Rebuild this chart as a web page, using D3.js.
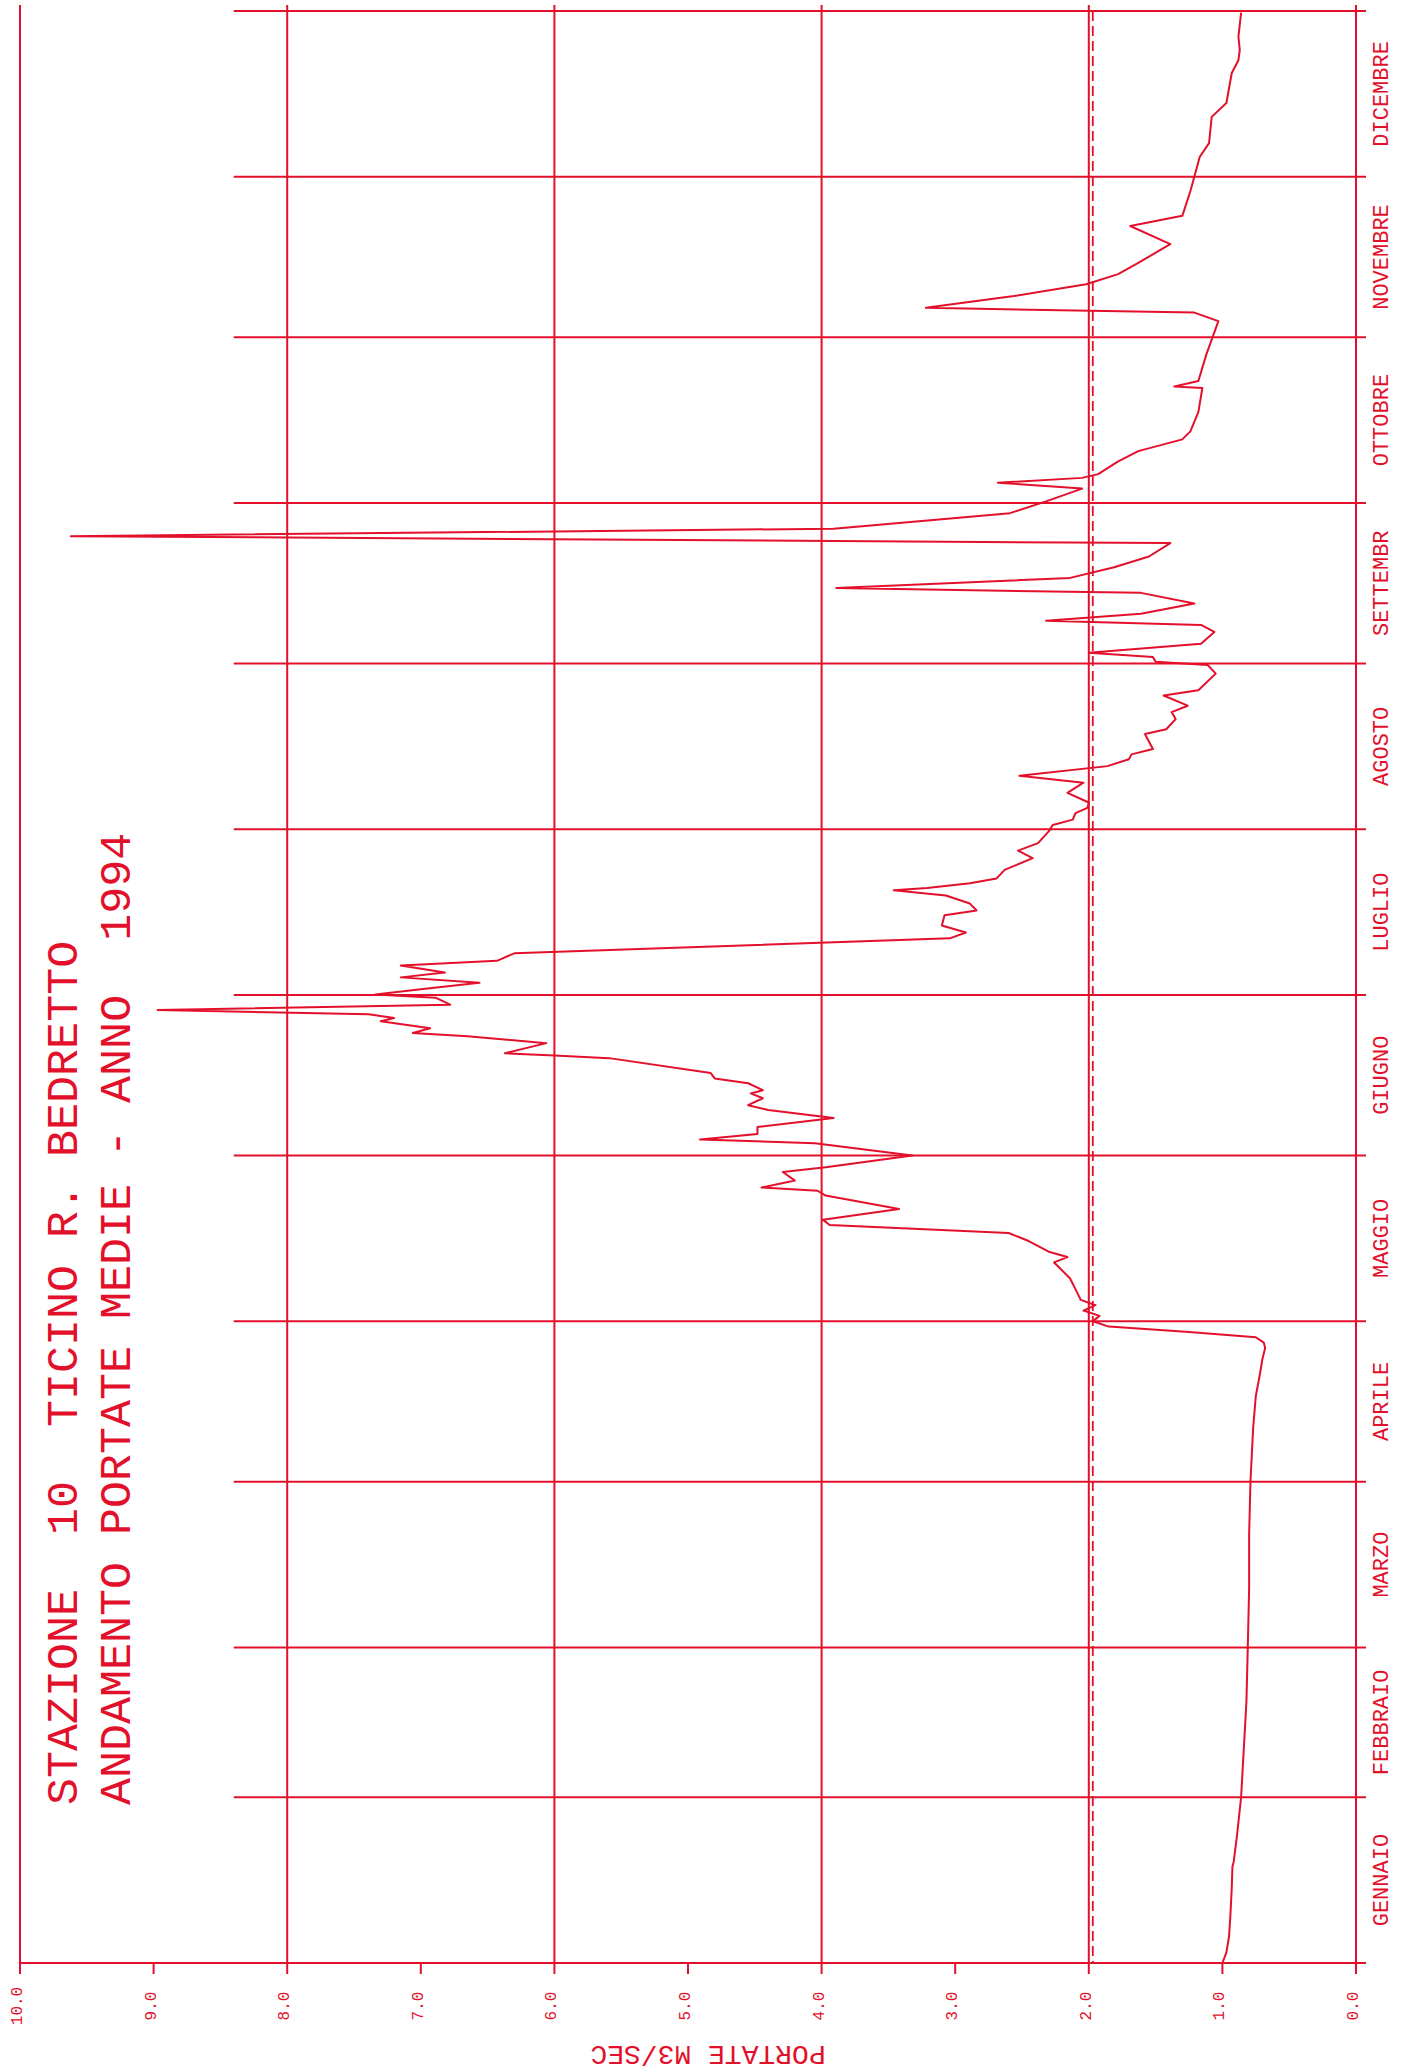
<!DOCTYPE html>
<html><head><meta charset="utf-8">
<script src="https://cdn.jsdelivr.net/npm/d3@7/dist/d3.min.js"></script>
<style>html,body{margin:0;padding:0;background:#fff}svg{display:block}text{white-space:pre}</style>
</head><body>
<svg id="chart" width="1402" height="2071"></svg>
<script>
// ---- data ----
const titleLines = ["STAZIONE  10  TICINO R. BEDRETTO", "ANDAMENTO PORTATE MEDIE - ANNO  1994"];
const axisTitle = "PORTATE M3/SEC";
const months = ["GENNAIO","FEBBRAIO","MARZO","APRILE","MAGGIO","GIUGNO","LUGLIO","AGOSTO","SETTEMBR","OTTOBRE","NOVEMBRE","DICEMBRE"];
const monthStartDays = [0,31,59,90,120,151,181,212,243,273,304,334,365];
const valueTicks = [0,1,2,3,4,5,6,7,8,9,10];
const tickLabels = ["0.0","1.0","2.0","3.0","4.0","5.0","6.0","7.0","8.0","9.0","10.0"];
const meanFlow = 1.97;
const days = [0,2,5,9,14,18,19,24,31,40,49,59,70,80,90,100,106,110,113,115,116,117,118,119,
  120,121,122,123,124,126,128,130,131,132,133,135,136.5,138,139,141,143.5,144.4,145,146.3,147.9,148.8,
  151,153.3,154,155,156.3,158,159.5,160.4,161.7,162.6,163.2,164.5,165.4,166.4,169.2,169.7,170.1,172,
  173.3,173.9,174.8,176.1,176.7,177.4,178.2,179.2,180.5,181.1,182.1,183.3,184.3,185.2,186.5,187.4,188.8,
  191.6,192.7,194,195.9,196.8,198.1,199.6,200.6,201,201.9,202.8,204.4,206.6,208,209.4,211.6,212.8,213.8,
  215,216,217,218.8,220.7,222,223.8,225.1,226,227,229.8,230.7,232.6,233.9,235.1,237,238,241.1,242.7,
  243.3,244.2,245,246.7,248.9,250.2,251,252.3,254.2,256.2,257.1,259,261,263,265.5,266.8,268.2,271.1,
  273.3,275.7,276.8,277.7,278.4,280.8,282.7,284.9,286.4,290,294.5,294.8,295.8,300.8,307,308.6,309.5,
  311.7,313.9,315.8,317.9,321.4,324.8,326.7,331.3,334,337.7,340.3,345.2,347.8,353.4,355.8,357.7,360.2,364.7];
const flows = [1.00,0.97,0.95,0.94,0.93,0.925,0.915,0.89,0.86,0.84,0.82,0.81,0.80,0.80,0.79,0.77,0.75,0.72,0.70,0.68,0.69,0.75,1.25,1.85,
  1.97,1.92,2.04,1.95,2.06,2.10,2.14,2.22,2.26,2.16,2.30,2.45,2.60,3.94,3.99,3.42,3.97,4.03,4.45,4.20,4.29,3.97,
  3.32,4.05,4.91,4.48,4.48,3.91,4.40,4.55,4.44,4.53,4.44,4.55,4.80,4.83,5.59,6.00,6.37,6.06,
  6.65,7.06,6.93,7.30,7.20,7.39,8.97,6.78,6.89,7.34,7.00,6.56,7.15,6.82,7.15,6.43,6.30,
  3.04,2.92,3.10,3.08,2.84,2.89,3.07,3.46,3.21,2.89,2.69,2.63,2.42,2.53,2.38,2.30,2.27,2.12,
  2.10,2.01,2.00,2.16,2.04,2.52,1.86,1.70,1.68,1.52,1.58,1.42,1.35,1.38,1.26,1.44,1.18,1.05,1.11,
  1.50,1.52,2.00,1.16,1.06,1.16,2.32,1.61,1.21,1.61,3.89,2.14,1.81,1.55,1.39,9.62,3.91,2.59,
  2.32,2.05,2.68,2.05,1.93,1.78,1.63,1.30,1.24,1.18,1.15,1.36,1.18,1.12,1.03,1.21,3.22,
  2.56,2.02,1.78,1.63,1.39,1.69,1.30,1.24,1.21,1.17,1.10,1.08,0.97,0.93,0.88,0.87,0.88,0.86];

// ---- drawing ----
const RED = "#e3102b";
const FONT = "'Liberation Mono','DejaVu Sans Mono',monospace";
const svg = d3.select("#chart");

const x = d3.scaleLinear().domain([0, 10]).range([1356, 20]);   // flow -> screen x
const y = d3.scaleLinear().domain([0, 365]).range([1963, 11]);  // day of year -> screen y

const yTop = 5, yBottom = 1963, tickEnd = 1974;
const gridStart = x(8.4), gridEnd = x(0) + 10;

// vertical lines: frame + even gridlines
svg.append("g").selectAll("line").data(valueTicks.filter(v => v % 2 === 0))
  .join("line")
  .attr("x1", d => x(d)).attr("x2", d => x(d))
  .attr("y1", yTop).attr("y2", tickEnd)
  .attr("stroke", RED).attr("stroke-width", 2);

// minor ticks at odd values
svg.append("g").selectAll("line").data(valueTicks.filter(v => v % 2 === 1))
  .join("line")
  .attr("x1", d => x(d)).attr("x2", d => x(d))
  .attr("y1", yBottom).attr("y2", tickEnd)
  .attr("stroke", RED).attr("stroke-width", 2);

// month boundary lines
svg.append("g").selectAll("line").data(monthStartDays)
  .join("line")
  .attr("x1", (d, i) => i === 0 ? x(10) : gridStart)
  .attr("x2", gridEnd)
  .attr("y1", d => y(d)).attr("y2", d => y(d))
  .attr("stroke", RED).attr("stroke-width", 2);

// mean dashed line
svg.append("line")
  .attr("x1", x(meanFlow)).attr("x2", x(meanFlow))
  .attr("y1", y(365)).attr("y2", y(0))
  .attr("stroke", RED).attr("stroke-width", 1.8)
  .attr("stroke-dasharray", "10,5");

// data line
const pts = days.map((d, i) => [d, flows[i]]);
svg.append("path")
  .datum(pts)
  .attr("fill", "none")
  .attr("stroke", RED)
  .attr("stroke-width", 2)
  .attr("stroke-linejoin", "round")
  .attr("d", d3.line().x(d => x(d[1])).y(d => y(d[0])));

// month labels
svg.append("g").selectAll("text").data(months)
  .join("text")
  .attr("transform", (d, i) => `translate(1388,${(y(monthStartDays[i]) + y(monthStartDays[i + 1])) / 2}) rotate(-90)`)
  .attr("text-anchor", "middle")
  .attr("font-family", FONT).attr("font-size", 22)
  .attr("fill", RED)
  .text(d => d);

// value tick labels
svg.append("g").selectAll("text").data(valueTicks)
  .join("text")
  .attr("transform", d => `translate(${x(d) + 2},2006) rotate(-90)`)
  .attr("text-anchor", "middle")
  .attr("font-family", FONT).attr("font-size", 16)
  .attr("fill", RED)
  .text((d, i) => tickLabels[i]);

// axis title (upside down)
svg.append("text")
  .attr("transform", `translate(${x(5) + 20},2046) rotate(180)`)
  .attr("text-anchor", "middle")
  .attr("font-family", FONT).attr("font-size", 28)
  .attr("fill", RED)
  .text(axisTitle);

// title
svg.append("g").selectAll("text").data(titleLines)
  .join("text")
  .attr("transform", (d, i) => `translate(${i === 0 ? 77 : 130},1805) rotate(-90)`)
  .attr("text-anchor", "start")
  .attr("font-family", FONT).attr("font-size", 45)
  .attr("fill", RED)
  .text(d => d);
</script>
</body></html>
